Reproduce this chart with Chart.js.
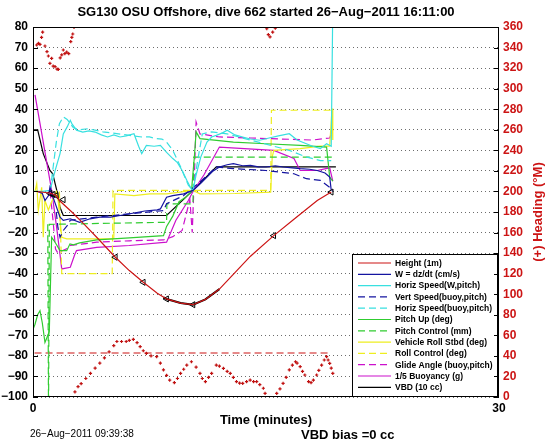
<!DOCTYPE html>
<html>
<head>
<meta charset="utf-8">
<script src="https://cdn.jsdelivr.net/npm/chart.js@4.4.1/dist/chart.umd.min.js"></script>
<style>
  html, body { margin: 0; padding: 0; background: #fff; }
</style>
</head>
<body>
<canvas id="chart" width="546" height="442"></canvas>
<script>
// dive 662 data (time in minutes)
const heightT = [0.2, 0.8, 1.2, 1.5, 1.7, 2.5, 3.3, 4.1, 5.3, 6.2, 7.1, 8.0, 8.6, 9.5, 10.3, 11.1, 12.0, 13.0, 14.0, 15.5, 16.8, 18.3, 19.2];
const heightV = [0, -0.5, -1, -2, -4.4, -10, -16, -22.3, -32, -38.5, -44.2, -49.5, -52.3, -54.3, -55.1, -52.5, -47.5, -39.5, -31.5, -21.5, -13.5, -4.4, -0.3];

// apogee part of the height trace, drawn black
const apogeeT = [8.4, 8.6, 9.5, 10.3, 11.1, 12.0];
const apogeeV = [-51.5, -52.3, -54.3, -55.1, -52.5, -47.5];

const markT = [1.1, 1.3, 1.5, 1.95, 5.3, 7.1, 8.6, 10.3, 15.5, 19.2];
const markV = [-1, -1.5, -2, -4, -32, -44.2, -52.3, -55.1, -21.5, -0.3];

const wT = [0.3, 0.6, 0.77, 1.0, 1.09, 1.3, 1.74, 1.95, 2.4, 3.0, 3.67, 4.3, 5.0, 5.6, 6.5, 7.2, 8.0, 8.2, 8.6, 9.0, 9.7, 10.3, 10.8, 11.2, 11.6, 12.0, 12.5, 12.9, 13.5, 14.0, 14.5, 15.0, 15.6, 16.1, 16.7, 17.2, 17.8, 18.3, 18.8, 19.1, 19.2];
const wV = [0, -1, -4.4, -2, 2, -3, -12.5, -14.1, -13.3, -15, -13.3, -12.5, -12.5, -11.7, -10.5, -9.5, -9, -8.5, -2.8, -2, -1.2, 0.5, 4, 7, 10, 11.9, 13, 13.5, 12.5, 12.7, 12, 11.9, 12.5, 11.9, 11.5, 11.1, 10.8, 10.2, 9, 7, 0.5];

const horizT = [0, 0.6, 1.1, 1.42, 1.74, 1.95, 2.2, 2.4, 2.5, 2.8, 3.2, 3.6, 4.0, 4.4, 4.8, 5.2, 5.6, 6.0, 6.5, 6.8, 7.0, 7.3, 7.8, 8.2, 8.6, 9.0, 9.3, 9.6, 9.9, 10.2, 10.3, 10.5, 10.8, 11.2, 11.5, 11.8, 12.2, 12.5, 13.0, 13.5, 14.0, 14.6, 15.2, 15.8, 16.5, 17.0, 17.6, 18.0, 18.5, 18.9, 19.2, 19.3];
const horizV = [0, 0, 0.5, 10, 18.4, 28, 31.4, 34.6, 33, 29.8, 28.9, 29.5, 28.9, 27.5, 26.5, 27.5, 26.5, 27, 28.1, 22, 18.4, 22.4, 22, 22.4, 19, 16, 14, 10.2, 5.4, 1, 0.5, 8, 16.7, 24, 26.5, 27.3, 28.5, 29.8, 27.5, 26.5, 25.5, 24.9, 26, 27, 28.1, 25, 23.2, 22, 20.8, 23.2, 22, 90];

const vertBT = [1.5, 1.6, 1.74, 1.95, 2.2, 2.4, 4.1, 6.2, 8.4, 8.6, 9.7, 10.75, 11.8, 12.9, 15.0, 16.8, 17.6, 18.5, 19.1, 19.3];
const vertBV = [-10, -17.4, -22.3, -19, -16.6, -14, -12.5, -10.9, -9.3, -6, -2, 4.6, 11.9, 11.1, 10.2, 8.6, 6.2, 5.4, 2, 0];

const horizBT = [1.1, 1.3, 1.5, 1.7, 1.95, 2.2, 2.6, 3.0, 3.5, 4.0, 4.5, 5.0, 5.5, 6.0, 6.5, 7.0, 7.5, 7.9, 8.3, 8.6, 9.0, 9.5, 10.0, 10.3, 10.6, 10.9, 11.5, 12.5, 13.5, 14.5, 15.5, 16.5, 17.5, 18.5, 19.2];
const horizBV = [0, 12, 24, 33, 36.3, 35, 31, 30, 30.5, 29.8, 29, 28.5, 28, 27.5, 27, 26.5, 26.5, 25.7, 25.5, 24, 20, 12, 3, 0.5, 15, 28, 29, 28, 26, 24, 22, 20, 17, 15, 15];

const pitchT = [0, 0.13, 0.3, 0.45, 0.6, 0.77, 0.99, 1.05, 1.2, 1.42, 1.74, 2.17, 2.38, 2.6, 3.0, 4.1, 6.2, 8.4, 8.6, 9.0, 9.4, 9.8, 10.2, 10.4, 10.5, 10.75, 12.9, 15.0, 17.2, 18.9, 19.1, 19.3];
const pitchV = [-67, -64.6, -60, -58, -64, -73.5, -69.4, -68, -22.3, -24.7, -28.8, -28.8, -25.5, -26, -25, -23.6, -22.6, -21.5, -17, -12, -5, -3, 0, 18, 29, 25.7, 24, 23.2, 22.4, 21.6, 7, 5];

const pitchCtlT = [0.95, 1.0, 1.05, 8.6, 8.62, 10.3, 10.35, 19.3];
const pitchCtlV = [-16, -110, -16, -15, -6, -6, 16.7, 16.7];

const rollT = [0.13, 0.24, 0.34, 0.56, 0.66, 0.77, 0.99, 1.2, 1.5, 1.6, 1.85, 2.17, 3.67, 5.2, 5.27, 6.5, 7.5, 8.6, 10.3, 10.75, 13.0, 15.3, 15.4, 15.5, 17.2, 18.5, 19.1, 19.25, 19.3];
const rollV = [0, 3.8, -9.3, 2, -22.3, -4.4, -9, -5, 0, -3, -22.3, -23.1, -23.1, -23, -1.2, -2, -1.2, -1.2, 0.5, -1.2, -1, -0.3, 16.7, 20, 20.8, 22, 22, 40.3, 25];

const rollCtlT = [1.7, 1.85, 5.1, 5.15, 15.3, 15.35, 19.3];
const rollCtlV = [0, -40, -40, 0.5, 0.5, 39.5, 39.5];

const glideT = [1.1, 1.3, 1.45, 1.6, 1.85, 2.2, 2.4, 4.1, 6.2, 8.4, 9.0, 9.6, 9.9, 10.1, 10.25, 10.4, 10.5, 10.75, 12.0, 14.0, 16.0, 18.0, 19.1, 19.3];
const glideV = [0, -15, -28, -30, -29, -27.8, -26.3, -24.7, -24, -23.6, -22, -19, -10, -4, -20, 10, 33.8, 28, 26.5, 26, 25.5, 25, 26, 30];

const buoyT = [0.13, 1.2, 1.53, 1.85, 2.4, 2.7, 2.8, 4.1, 6.2, 8.6, 9.2, 10.0, 10.3, 11.0, 12.0, 15.5, 16.8, 17.2, 18.3, 19.1, 19.3];
const buoyV = [47, 0.5, -18, -37.7, -36.9, -30.4, -28.8, -27.2, -26.3, -24.7, -14, -4.4, 0, 8, 21.6, 20, 16, 10.2, 10.2, 11.5, 5];

const vbdT = [0, 0.3, 0.66, 1.09, 1.27, 1.53, 1.74, 1.95, 8.6, 10.3, 11.8, 19.5];
const vbdV = [30, 30, 18.4, 10.2, 8.6, 0.5, -7.7, -11.7, -11.7, 0.5, 12, 12];

// heading (right axis, deg M)
const headT = [0.24, 0.35, 0.45, 0.55, 0.62, 0.77, 0.9, 0.99, 1.09, 1.2, 1.3, 1.42, 1.55, 1.63, 1.75, 1.85, 1.95, 2.05, 2.17, 2.3, 2.43, 2.5, 2.56, 2.64,
  2.7, 2.9, 3.1, 3.4, 3.7, 4.0, 4.3, 4.6, 4.9, 5.2, 5.4, 5.7, 6.0, 6.2, 6.46, 6.7, 6.9, 7.1, 7.3, 7.6, 7.96, 8.2, 8.4, 8.6, 8.8, 9.1, 9.3, 9.5, 9.7, 9.9, 10.2,
  10.5, 10.75, 10.9, 11.1, 11.3, 11.5, 11.8, 12.0, 12.26, 12.5, 12.7, 12.9, 13.1, 13.3, 13.5, 13.75, 13.98, 14.2, 14.4, 14.6, 14.83, 14.94,
  15.05, 15.15, 15.26, 15.43, 15.6,
  15.69, 15.9, 16.1, 16.3, 16.5, 16.7, 16.9, 17.0, 17.2, 17.35, 17.5, 17.74, 17.9, 18.05, 18.26, 18.4, 18.58, 18.75, 18.9, 19.0, 19.1, 19.2, 19.3];
const headV = [342.5, 344, 343, 350, 355, 341.5, 336, 331.8, 324.6, 329.5, 322, 321.4, 319, 318.8, 330, 332.8, 337.6, 334, 335.5, 334, 345.7, 350, 353.2, 359.7,
  5, 10, 13, 18, 23, 28, 33, 38, 44, 50, 54, 54, 54, 55, 56, 53, 49, 45, 42.4, 40, 39.2, 33, 26.3, 21, 16.5, 13.9, 18, 23, 27, 31, 34.3,
  29, 23, 18, 14.9, 19, 23, 31, 30, 27.9, 25, 23, 19, 14.9, 13.5, 13.3, 15, 16.5, 15, 14.9, 12, 8.5, 3.6,
  358.3, 352.5, 350.3, 355, 359,
  3.6, 8, 13.3, 19, 26.3, 31, 34.3, 33, 29.5, 25, 21.4, 14.9, 14, 16.5, 21.4, 26, 31, 36, 39.2, 36, 32.8, 28, 23];

const headDesT = [0.1, 19.2];
const headDesV = [42.8, 42.8];

const yTicks = { min: -100, max: 80, step: 10 };
const y2Ticks = { min: 0, max: 360, step: 20 };

const RED = '#cc1414', BLUE = '#1414a0', CYAN = '#38e0e0', GREEN = '#30cc30',
      YELLOW = '#eeee20', MAGENTA = '#cc10cc', BLACK = '#000000';
const DASH = [7, 4];
const FONT = "'Liberation Sans', Arial, Helvetica, sans-serif";

Chart.defaults.font.family = FONT;

const pts = (t, v) => t.map((x, i) => ({ x: x, y: v[i] }));

function line(label, t, v, color, dash, legend) {
  return {
    label: label, data: pts(t, v), borderColor: color, backgroundColor: color,
    borderWidth: 1.2, borderDash: dash || [], pointRadius: 0, tension: 0,
    fill: false, yAxisID: 'y', inLegend: legend !== false
  };
}

const datasets = [
  line('Height (1m)', heightT, heightV, RED),
  {
    label: 'marks', data: pts(markT, markV), showLine: false, pointStyle: 'triangle',
    pointRotation: -90, pointRadius: 3.5, borderColor: '#000', backgroundColor: 'rgba(0,0,0,0)',
    borderWidth: 1, yAxisID: 'y', inLegend: false
  },
  Object.assign(line('apogee', apogeeT, apogeeV, BLACK, null, false), { borderWidth: 2 }),
  line('W = dz/dt (cm/s)', wT, wV, BLUE),
  line('Horiz Speed(W,pitch)', horizT, horizV, CYAN),
  line('Vert Speed(buoy,pitch)', vertBT, vertBV, BLUE, DASH),
  line('Horiz Speed(buoy,pitch)', horizBT, horizBV, CYAN, DASH),
  line('Pitch Up (deg)', pitchT, pitchV, GREEN),
  line('Pitch Control (mm)', pitchCtlT, pitchCtlV, GREEN, DASH),
  line('Vehicle Roll Stbd (deg)', rollT, rollV, YELLOW),
  line('Roll Control (deg)', rollCtlT, rollCtlV, YELLOW, DASH),
  line('Glide Angle (buoy,pitch)', glideT, glideV, MAGENTA, DASH),
  line('1/5 Buoyancy (g)', buoyT, buoyV, MAGENTA),
  line('VBD (10 cc)', vbdT, vbdV, BLACK),
  {
    label: 'heading', data: pts(headT, headV), showLine: false, pointStyle: 'cross',
    pointRadius: 1.6, borderColor: '#c01010', borderWidth: 1.2, yAxisID: 'y2', inLegend: false
  },
  Object.assign(line('heading desired', headDesT, headDesV, RED, DASH, false), { yAxisID: 'y2' })
];

const minus = v => (v < 0 ? '\u2212' + Math.abs(v) : '' + v);

// box, inward ticks, legend and the loose texts
const decorations = {
  id: 'decorations',
  afterDraw(chart) {
    const ctx = chart.ctx, a = chart.chartArea;
    ctx.save();

    // legend
    const items = chart.data.datasets.filter(d => d.inLegend);
    const lx = 352, ly = 254, lw = 145, lh = 142, rowH = 11.3;
    ctx.fillStyle = '#fff';
    ctx.fillRect(lx, ly, lw, lh);
    ctx.strokeStyle = '#000';
    ctx.lineWidth = 1;
    ctx.setLineDash([]);
    ctx.strokeRect(lx + 0.5, ly + 0.5, lw, lh);
    ctx.font = 'bold 8.5px ' + FONT;
    ctx.textBaseline = 'middle';
    ctx.textAlign = 'left';
    items.forEach((d, i) => {
      const y = ly + 9 + i * rowH;
      ctx.beginPath();
      ctx.setLineDash(d.borderDash);
      ctx.strokeStyle = d.borderColor;
      ctx.lineWidth = 1.2;
      ctx.moveTo(358, y);
      ctx.lineTo(391, y);
      ctx.stroke();
      ctx.setLineDash([]);
      ctx.fillStyle = '#000';
      ctx.fillText(d.label, 395, y + 0.5);
    });

    // axes box and inward tick marks
    ctx.strokeStyle = '#000';
    ctx.lineWidth = 1;
    ctx.strokeRect(a.left + 0.5, a.top + 0.5, a.right - a.left - 1, a.bottom - a.top - 1);
    const ys = chart.scales.y;
    ctx.beginPath();
    for (let v = yTicks.min; v <= yTicks.max; v += yTicks.step) {
      const p = Math.round(ys.getPixelForValue(v)) + 0.5;
      ctx.moveTo(a.left, p); ctx.lineTo(a.left + 5, p);
      ctx.moveTo(a.right - 5, p); ctx.lineTo(a.right, p);
    }
    ctx.stroke();

    // title
    ctx.fillStyle = '#000';
    ctx.textAlign = 'center';
    ctx.textBaseline = 'middle';
    ctx.font = 'bold 13px ' + FONT;
    ctx.fillText('SG130 OSU Offshore, dive 662 started 26\u2212Aug\u22122011 16:11:00', (a.left + a.right) / 2, 12);

    // axis titles
    ctx.fillText('Time (minutes)', (a.left + a.right) / 2, 420);
    ctx.save();
    ctx.translate(538, (a.top + a.bottom) / 2);
    ctx.rotate(-Math.PI / 2);
    ctx.fillStyle = RED;
    ctx.fillText('(+) Heading (\u00B0M)', 0, 0);
    ctx.restore();

    // footer
    ctx.textAlign = 'left';
    ctx.font = '10px ' + FONT;
    ctx.fillText('26\u2212Aug\u22122011 09:39:38', 30, 434);
    ctx.font = 'bold 13px ' + FONT;
    ctx.fillText('VBD bias =0 cc', 301, 435);

    ctx.restore();
  }
};

const tickFont = { size: 12, weight: 'bold', family: FONT };

new Chart(document.getElementById('chart').getContext('2d'), {
  type: 'line',
  data: { datasets: datasets },
  options: {
    responsive: false,
    animation: false,
    devicePixelRatio: 1,
    layout: { padding: { top: 27, left: 0, right: 0, bottom: 0 } },
    plugins: {
      legend: { display: false },
      title: { display: false },
      tooltip: { enabled: false }
    },
    scales: {
      x: {
        type: 'linear', min: 0, max: 30, position: 'bottom',
        ticks: { stepSize: 30, color: '#000', font: tickFont, padding: 4, maxRotation: 0, autoSkip: false },
        grid: { display: false, drawTicks: false },
        border: { display: false },
        afterFit(s) { s.height = 45; }
      },
      y: {
        min: yTicks.min, max: yTicks.max, position: 'left',
        ticks: { stepSize: yTicks.step, color: '#000', font: tickFont, padding: 5, autoSkip: false, callback: minus },
        grid: { color: 'rgba(60,60,60,0.75)', lineWidth: 1, drawTicks: false },
        border: { display: false, dash: [1, 3] },
        afterFit(s) { s.width = 33; }
      },
      y2: {
        min: y2Ticks.min, max: y2Ticks.max, position: 'right',
        ticks: { stepSize: y2Ticks.step, color: RED, font: tickFont, padding: 4, autoSkip: false },
        grid: { display: false, drawTicks: false },
        border: { display: false },
        afterFit(s) { s.width = 47; }
      }
    }
  },
  plugins: [decorations]
});
</script>
</body>
</html>
